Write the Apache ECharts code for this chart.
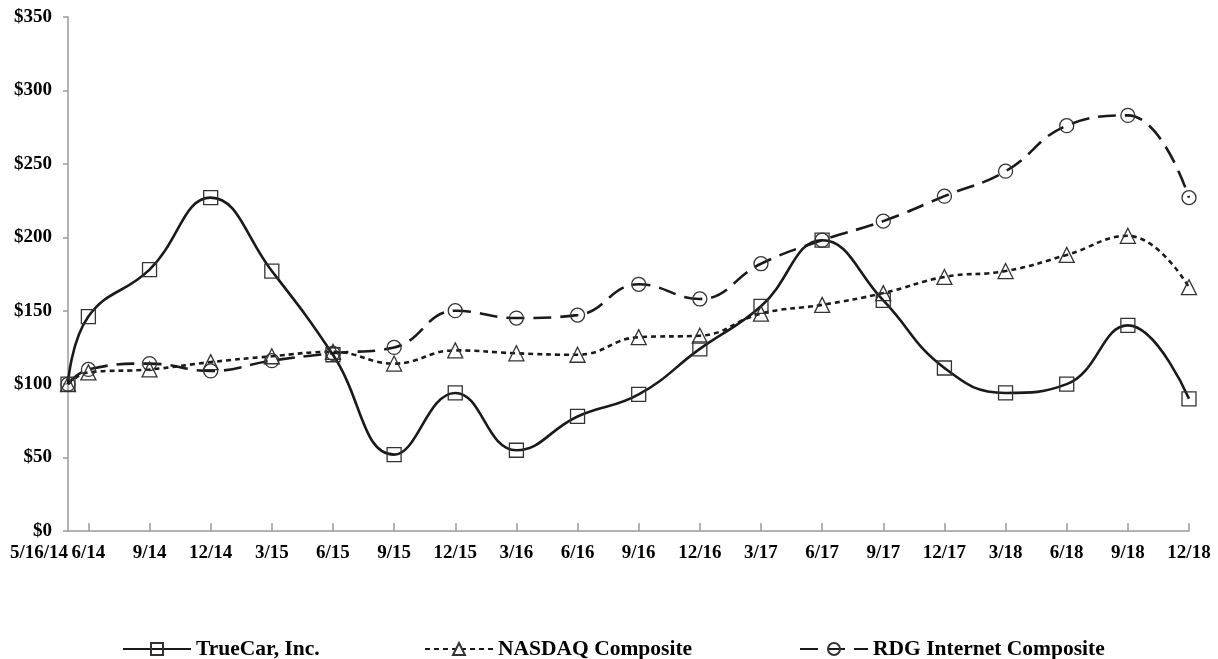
<!DOCTYPE html>
<html>
<head>
<meta charset="utf-8">
<script src="https://cdn.jsdelivr.net/npm/echarts@6/dist/echarts.min.js"></script>
<style>
html,body{margin:0;padding:0;background:#fff;}
#c{width:1218px;height:659px;}
</style>
</head>
<body>
<div id="c"></div>
<script>
// months since 5/14 for each observation
const monthPos = [0,1,4,7,10,13,16,19,22,25,28,31,34,37,40,43,46,49,52,55];
const dateLabels = ['5/16/14','6/14','9/14','12/14','3/15','6/15','9/15','12/15','3/16','6/16','9/16','12/16','3/17','6/17','9/17','12/17','3/18','6/18','9/18','12/18'];
const trueCar = [100,146,178,227,177,120,52,94,55,78,93,124,153,198,157,111,94,100,140,90];
const nasdaq  = [100,108,110,115,119,122,114,123,121,120,132,133,148,154,162,173,177,188,201,166];
const rdg     = [100,110,114,109,116,121,125,150,145,147,168,158,182,198,211,228,245,276,283,227];
const yTicks = [0,50,100,150,200,250,300,350];
const seriesNames = ['TrueCar, Inc.','NASDAQ Composite','RDG Internet Composite'];

const pairs = v => v.map((y,i)=>[monthPos[i], y]);
const font = 'Liberation Serif, Times New Roman, serif';
const ink = '#1a1a1a';
const markerBorder = '#333';

const chart = echarts.init(document.getElementById('c'), null, {renderer:'canvas'});
function mkSeries(name, data, symbol, dash, size){
  return {
    name, type:'line', data: pairs(data), smooth:0.45,
    symbol, symbolSize:size, showAllSymbol:true,
    lineStyle:{color:ink, width:2.6, type:dash},
    itemStyle:{color:'rgba(255,255,255,0)', borderColor:markerBorder, borderWidth:1.3},
    emphasis:{disabled:true}
  };
}
function mkLegend(name, left){
  return {
    data:[name], left, top:633, itemWidth:68, itemHeight:15,
    textStyle:{fontFamily:font, fontWeight:'bold', fontSize:21.5, color:'#000'},
    selectedMode:false
  };
}
chart.setOption({
  animation:false,
  backgroundColor:'#fff',
  grid:{left:68, right:29, top:17, bottom:128, containLabel:false, outerBoundsMode:'none'},
  legend:[mkLegend(seriesNames[0],117), mkLegend(seriesNames[1],419), mkLegend(seriesNames[2],794)],
  xAxis:{
    type:'value', min:0, max:55,
    splitLine:{show:false},
    axisLine:{show:true, lineStyle:{color:'#9a9a9a', width:1.5}},
    axisTick:{show:true, inside:true, length:8, customValues:monthPos.slice(1), lineStyle:{color:'#9a9a9a', width:1.5}},
    axisLabel:{
      customValues:monthPos, margin:13,
      fontFamily:font, fontWeight:'bold', fontSize:19, color:'#000',
      formatter:v=>{
        const i = monthPos.indexOf(v);
        if(i<0) return '';
        return i===0 ? '{r|'+dateLabels[i]+'}' : dateLabels[i];
      },
      rich:{r:{fontFamily:font, fontWeight:'bold', fontSize:19, color:'#000', padding:[0,58,0,0]}}
    }
  },
  yAxis:{
    type:'value', min:0, max:350, interval:50,
    splitLine:{show:false},
    axisLine:{show:true, lineStyle:{color:'#9a9a9a', width:1.5}},
    axisTick:{show:true, length:5, lineStyle:{color:'#9a9a9a', width:1.5}},
    axisLabel:{margin:16, fontFamily:font, fontWeight:'bold', fontSize:19, color:'#000',
      customValues:yTicks, formatter:v=>'$'+v}
  },
  series:[
    mkSeries(seriesNames[0], trueCar, 'rect', 'solid', 14),
    mkSeries(seriesNames[1], nasdaq, 'triangle', [5,4], 15),
    mkSeries(seriesNames[2], rdg, 'circle', [18,9], 14)
  ]
});
</script>
</body>
</html>
